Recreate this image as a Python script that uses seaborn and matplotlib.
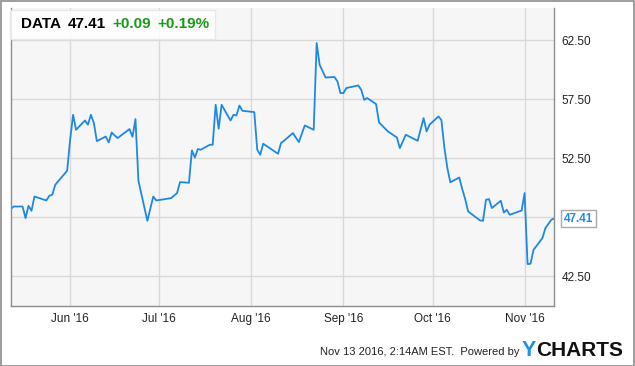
import matplotlib
matplotlib.use("Agg")
import matplotlib.pyplot as plt
import matplotlib.dates as mdates
from matplotlib.patches import Rectangle
import seaborn as sns
import pandas as pd

# ---- data ----
dates = ["2016-05-12", "2016-05-13", "2016-05-16", "2016-05-17", "2016-05-18", "2016-05-19",
         "2016-05-20", "2016-05-24", "2016-05-25", "2016-05-26", "2016-05-27", "2016-05-31",
         "2016-06-01", "2016-06-02", "2016-06-03", "2016-06-06", "2016-06-07", "2016-06-08",
         "2016-06-09", "2016-06-10", "2016-06-13", "2016-06-14", "2016-06-15", "2016-06-16",
         "2016-06-17", "2016-06-21", "2016-06-22", "2016-06-23", "2016-06-24", "2016-06-27",
         "2016-06-29", "2016-06-30", "2016-07-05", "2016-07-07", "2016-07-08", "2016-07-11",
         "2016-07-12", "2016-07-13", "2016-07-14", "2016-07-15", "2016-07-18", "2016-07-19",
         "2016-07-20", "2016-07-21", "2016-07-22", "2016-07-25", "2016-07-26", "2016-07-27",
         "2016-07-28", "2016-07-29", "2016-08-02", "2016-08-03", "2016-08-04", "2016-08-05",
         "2016-08-10", "2016-08-11", "2016-08-12", "2016-08-15", "2016-08-17", "2016-08-19",
         "2016-08-22", "2016-08-23", "2016-08-24", "2016-08-26", "2016-08-29", "2016-08-30",
         "2016-08-31", "2016-09-01", "2016-09-02", "2016-09-06", "2016-09-07", "2016-09-08",
         "2016-09-09", "2016-09-12", "2016-09-13", "2016-09-14", "2016-09-16", "2016-09-19",
         "2016-09-20", "2016-09-22", "2016-09-26", "2016-09-28", "2016-09-29", "2016-09-30",
         "2016-10-03", "2016-10-04", "2016-10-05", "2016-10-06", "2016-10-07", "2016-10-10",
         "2016-10-11", "2016-10-12", "2016-10-13", "2016-10-17", "2016-10-18", "2016-10-19",
         "2016-10-20", "2016-10-21", "2016-10-24", "2016-10-25", "2016-10-26", "2016-10-27",
         "2016-10-31", "2016-11-01", "2016-11-02", "2016-11-03", "2016-11-04", "2016-11-07",
         "2016-11-08", "2016-11-10", "2016-11-11"]
prices = [48.21, 48.43, 48.43, 47.45, 48.49, 48.07,
          49.28, 48.94, 49.34, 49.42, 50.27, 51.46,
          54.08, 56.20, 54.93, 55.72, 55.36, 56.20,
          55.50, 53.97, 54.36, 53.86, 54.70, 54.45,
          54.23, 54.99, 54.34, 55.84, 50.61, 47.22,
          49.28, 48.94, 49.14, 49.57, 50.50, 50.44,
          53.18, 52.58, 53.30, 53.24, 53.66, 53.66,
          57.05, 55.02, 57.05, 55.72, 56.20, 56.14,
          56.99, 56.54, 56.43, 53.24, 52.81, 53.75,
          52.90, 53.81, 54.00, 54.65, 53.89, 55.30,
          54.93, 62.28, 60.44, 59.36, 59.40, 59.03,
          58.04, 58.04, 58.47, 58.69, 58.32, 57.47,
          57.62, 57.11, 55.55, 55.30, 54.79, 54.28,
          53.38, 54.51, 54.00, 55.92, 54.79, 55.36,
          56.06, 55.75, 53.40, 51.69, 50.48, 50.89,
          49.91, 49.06, 48.01, 47.25, 47.22, 49.00,
          49.06, 48.30, 48.92, 47.92, 48.15, 47.73,
          48.09, 49.57, 43.55, 43.58, 44.76, 45.75,
          46.60, 47.31, 47.41]
y_ticks = [42.5, 47.5, 52.5, 57.5, 62.5]
y_tick_labels = ["42.50", "", "52.50", "57.50", "62.50"]  # 47.50 hidden behind last-value tag
ticker = "DATA"
last_price = "47.41"
change = "+0.09"
change_pct = "+0.19%"
footer = "Nov 13 2016, 2:14AM EST.  Powered by"

df = pd.DataFrame({"date": pd.to_datetime(dates), "price": prices})

# ---- style ----
sns.set_theme(style="white")
plt.rcParams["font.family"] = ["Liberation Sans", "DejaVu Sans"]

W, H = 635, 366
fig = plt.figure(figsize=(W / 100, H / 100), dpi=100)
fig.patch.set_facecolor("white")

def fx(x):
    return x / W

def fy(y):
    return 1 - y / H

ax = fig.add_axes([fx(10.7), fy(306), fx(554.3) - fx(10.7), fy(8) - fy(306)])
ax.set_facecolor("#f6f6f6")

line_color = "#1e88e5"
sns.lineplot(data=df, x="date", y="price", ax=ax, color=line_color, linewidth=1.3)

ax.set_xlim(pd.Timestamp("2016-05-12"), pd.Timestamp("2016-11-11"))
ax.set_ylim(40.0, 65.25)

ax.xaxis.set_major_locator(mdates.MonthLocator())
ax.xaxis.set_major_formatter(mdates.DateFormatter("%b '%y"))
ax.yaxis.tick_right()
ax.set_yticks(y_ticks)
ax.set_yticklabels(y_tick_labels)
ax.tick_params(axis="both", length=0, labelsize=8.5, colors="#222222")
ax.tick_params(axis="y", pad=5)
ax.tick_params(axis="x", pad=5)
ax.set_xlabel("")
ax.set_ylabel("")
ax.grid(True, color="#d9d9d9", linewidth=1)
for side, sp in ax.spines.items():
    sp.set_color("#8c8c8c")
    sp.set_linewidth(1)
ax.spines["top"].set_visible(False)

# title box
fig.patches.append(Rectangle((fx(10), fy(39)), fx(215) - fx(10), fy(10) - fy(39),
                             transform=fig.transFigure, facecolor="white", alpha=0.85,
                             edgecolor="#e6e6e6", linewidth=1, zorder=5))
tkw = dict(fontsize=11, fontweight="bold", va="center", ha="left", zorder=6)
fig.text(fx(20.5), fy(23.5), ticker, color="black", **tkw)
fig.text(fx(67.5), fy(23.5), last_price, color="black", **tkw)
fig.text(fx(112), fy(23.5), change, color="#1a9a1a", **tkw)
fig.text(fx(157), fy(23.5), change_pct, color="#1a9a1a", **tkw)

# last value label
ax.annotate(last_price, xy=(df["date"].iloc[-1], prices[-1]), xycoords="data",
            xytext=(7, 0), textcoords="offset points", ha="left", va="center",
            fontsize=8.5, fontweight="bold", color=line_color, annotation_clip=False,
            zorder=20,
            bbox=dict(boxstyle="square,pad=0.25", facecolor="white", edgecolor="#aaaaaa",
                      linewidth=1))

# footer
fig.text(fx(520), fy(352), footer, ha="right", va="center", fontsize=8, color="#222222")
fig.text(fx(522), fy(350), "Y", ha="left", va="center", fontsize=15.5, fontweight="bold",
         color="#1e90e8")
fig.text(fx(536), fy(350), "CHARTS", ha="left", va="center", fontsize=15, fontweight="bold",
         color="#111111")

# outer border
fig.patches.append(Rectangle((0.5 / W, 0.5 / H), 1 - 1.5 / W, 1 - 1.5 / H,
                             transform=fig.transFigure, fill=False,
                             edgecolor="#8c8c8c", linewidth=1.2, zorder=0))

fig.savefig("out.png", dpi=100, facecolor="white")
